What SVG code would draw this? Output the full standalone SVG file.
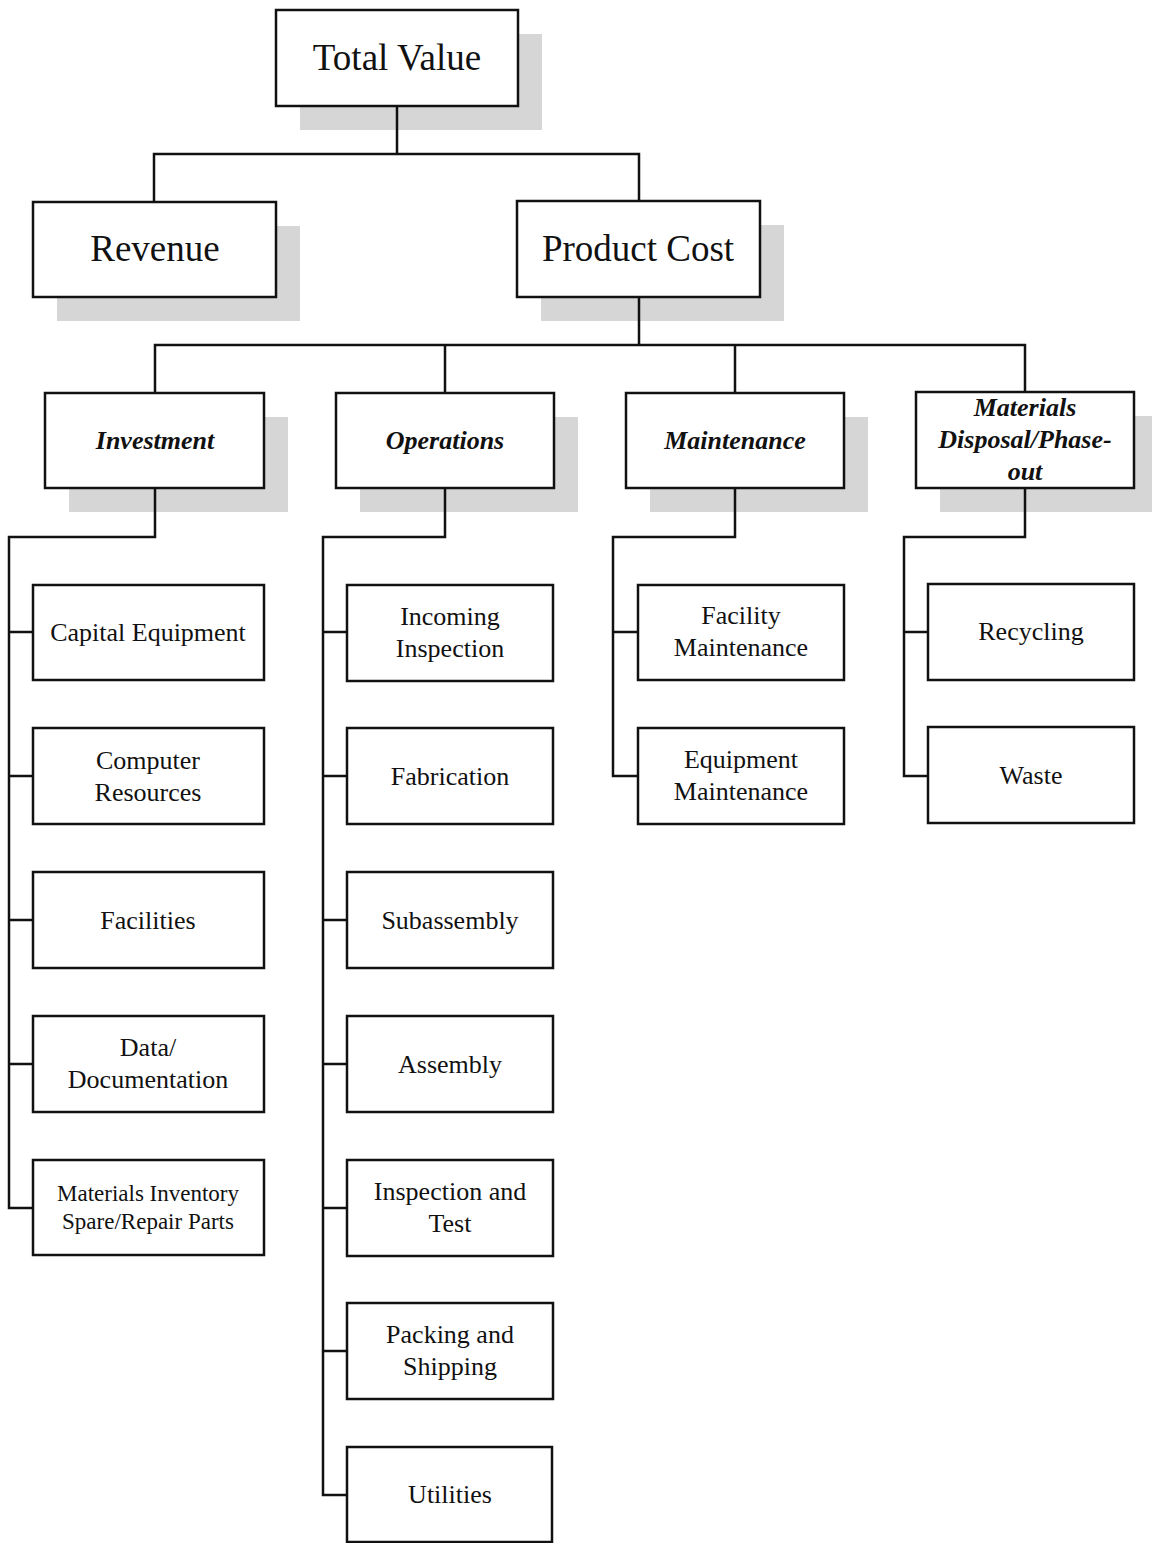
<svg xmlns="http://www.w3.org/2000/svg" width="1152" height="1543" viewBox="0 0 1152 1543">
<style>
.box{fill:#fff;stroke:#111;stroke-width:2.5}
.sh{fill:#d6d6d6}
.t{font-family:"Liberation Serif",serif;fill:#111;text-anchor:middle}
.big{font-size:37px}
.mid{font-size:26px}
.bi{font-size:26px;font-weight:bold;font-style:italic}
.sm{font-size:23px}
#connectors path{fill:none;stroke:#111;stroke-width:2.5}
</style>
<rect width="1152" height="1543" fill="#fff"/>
<g id="shadows">
<rect class="sh" x="300" y="34" width="242" height="96"/>
<rect class="sh" x="57" y="226" width="243" height="95"/>
<rect class="sh" x="541" y="225" width="243" height="96"/>
<rect class="sh" x="69" y="417" width="219" height="95"/>
<rect class="sh" x="360" y="417" width="218" height="95"/>
<rect class="sh" x="650" y="417" width="218" height="95"/>
<rect class="sh" x="940" y="416" width="218" height="96"/>
</g>
<g id="connectors">
<path d="M397 106V154M154 202V154H639V202"/>
<path d="M639 297V345M155 393V345H1025V393M445 345V393M735 345V393"/>
<path d="M155 488V537H9V1208H33M9 632H33M9 776H33M9 920H33M9 1064H33"/>
<path d="M445 488V537H323V1495H347M323 632H347M323 776H347M323 920H347M323 1064H347M323 1208H347M323 1351H347"/>
<path d="M735 488V537H613V776H638M613 632H638"/>
<path d="M1025 488V537H904V776H928M904 632H928"/>
</g>
<g id="n-total"><rect class="box" x="276" y="10" width="242" height="96"/><text class="t big" x="397" y="70">Total Value</text></g>
<g id="n-revenue"><rect class="box" x="33" y="202" width="243" height="95"/><text class="t big" x="155" y="261">Revenue</text></g>
<g id="n-product-cost"><rect class="box" x="517" y="201" width="243" height="96"/><text class="t big" x="638" y="261">Product Cost</text></g>
<g id="n-investment"><rect class="box" x="45" y="393" width="219" height="95"/><text class="t bi" x="155" y="449">Investment</text></g>
<g id="n-operations"><rect class="box" x="336" y="393" width="218" height="95"/><text class="t bi" x="445" y="449">Operations</text></g>
<g id="n-maintenance"><rect class="box" x="626" y="393" width="218" height="95"/><text class="t bi" x="735" y="449">Maintenance</text></g>
<g id="n-materials-disposal"><rect class="box" x="916" y="392" width="218" height="96"/><text class="t bi" x="1025" y="416">Materials</text><text class="t bi" x="1025" y="448">Disposal/Phase-</text><text class="t bi" x="1025" y="480">out</text></g>
<g id="n-capital"><rect class="box" x="33" y="585" width="231" height="95"/><text class="t mid" x="148" y="641">Capital Equipment</text></g>
<g id="n-computer"><rect class="box" x="33" y="728" width="231" height="96"/><text class="t mid" x="148" y="769">Computer</text><text class="t mid" x="148" y="801">Resources</text></g>
<g id="n-facilities"><rect class="box" x="33" y="872" width="231" height="96"/><text class="t mid" x="148" y="929">Facilities</text></g>
<g id="n-data"><rect class="box" x="33" y="1016" width="231" height="96"/><text class="t mid" x="148" y="1056">Data/</text><text class="t mid" x="148" y="1088">Documentation</text></g>
<g id="n-inventory"><rect class="box" x="33" y="1160" width="231" height="95"/><text class="t sm" x="148" y="1201">Materials Inventory</text><text class="t sm" x="148" y="1229">Spare/Repair Parts</text></g>
<g id="n-incoming"><rect class="box" x="347" y="585" width="206" height="96"/><text class="t mid" x="450" y="625">Incoming</text><text class="t mid" x="450" y="657">Inspection</text></g>
<g id="n-fabrication"><rect class="box" x="347" y="728" width="206" height="96"/><text class="t mid" x="450" y="785">Fabrication</text></g>
<g id="n-subassembly"><rect class="box" x="347" y="872" width="206" height="96"/><text class="t mid" x="450" y="929">Subassembly</text></g>
<g id="n-assembly"><rect class="box" x="347" y="1016" width="206" height="96"/><text class="t mid" x="450" y="1073">Assembly</text></g>
<g id="n-inspection-test"><rect class="box" x="347" y="1160" width="206" height="96"/><text class="t mid" x="450" y="1200">Inspection and</text><text class="t mid" x="450" y="1232">Test</text></g>
<g id="n-packing"><rect class="box" x="347" y="1303" width="206" height="96"/><text class="t mid" x="450" y="1343">Packing and</text><text class="t mid" x="450" y="1375">Shipping</text></g>
<g id="n-utilities"><rect class="box" x="347" y="1447" width="205" height="95"/><text class="t mid" x="450" y="1503">Utilities</text></g>
<g id="n-facility-maint"><rect class="box" x="638" y="585" width="206" height="95"/><text class="t mid" x="741" y="624">Facility</text><text class="t mid" x="741" y="656">Maintenance</text></g>
<g id="n-equipment-maint"><rect class="box" x="638" y="728" width="206" height="96"/><text class="t mid" x="741" y="768">Equipment</text><text class="t mid" x="741" y="800">Maintenance</text></g>
<g id="n-recycling"><rect class="box" x="928" y="584" width="206" height="96"/><text class="t mid" x="1031" y="640">Recycling</text></g>
<g id="n-waste"><rect class="box" x="928" y="727" width="206" height="96"/><text class="t mid" x="1031" y="784">Waste</text></g>
</svg>
